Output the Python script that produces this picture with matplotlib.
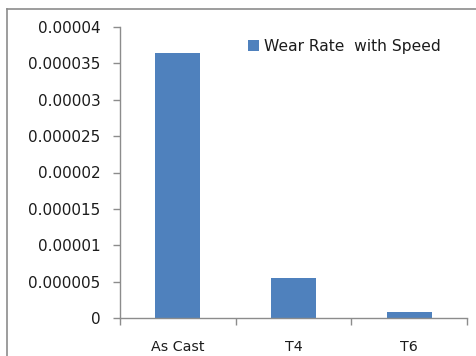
import matplotlib.pyplot as plt
from matplotlib.lines import Line2D

categories = ['As Cast', 'T4', 'T6']
wear_rate = [0.0000364, 0.0000055, 0.0000008]
series_name = 'Wear Rate  with Speed'
y_ticks = [0, 0.000005, 0.00001, 0.000015, 0.00002, 0.000025, 0.00003, 0.000035, 0.00004]
y_labels = ['0', '0.000005', '0.00001', '0.000015', '0.00002', '0.000025', '0.00003', '0.000035', '0.00004']

bar_color = '#4f81bd'
axis_color = '#8c8c8c'
text_color = '#1c1c1c'

fig = plt.figure(figsize=(4.77, 3.56), dpi=100)
ax = fig.add_axes([120 / 477, 38 / 356, 347 / 477, 291 / 356])

x = list(range(len(categories)))
ax.bar(x, wear_rate, width=0.39, color=bar_color, label=series_name)

ax.set_xlim(-0.5, len(categories) - 0.5)
ax.set_ylim(0, 0.00004)
ax.set_yticks(y_ticks)
ax.set_yticklabels(y_labels)

# boundaries get the tick marks, centres get the labels
ax.set_xticks([i - 0.5 for i in range(len(categories) + 1)])
ax.set_xticklabels([])
ax.set_xticks(x, minor=True)
ax.set_xticklabels(categories, minor=True)
ax.tick_params(axis='x', which='major', direction='out', length=5, width=1, color=axis_color)
ax.tick_params(axis='x', which='minor', length=0, pad=16, labelsize=10.3, labelcolor=text_color)
ax.tick_params(axis='y', direction='out', length=5, width=1, color=axis_color,
               pad=9, labelsize=11, labelcolor=text_color)

for side in ['top', 'right']:
    ax.spines[side].set_visible(False)
for side in ['left', 'bottom']:
    ax.spines[side].set_color(axis_color)
    ax.spines[side].set_linewidth(1)

leg = ax.legend(loc='upper left', bbox_to_anchor=(0.328, 1.007), frameon=False,
                fontsize=11.2, handlelength=0.7, handleheight=0.7, handletextpad=0.35)
for t in leg.get_texts():
    t.set_color(text_color)

# outer chart border (left and top edges only are in view)
fig.add_artist(Line2D([7 / 477, 7 / 477], [0, 1 - 9 / 356], color=axis_color, lw=1.2))
fig.add_artist(Line2D([7 / 477, 1], [1 - 9 / 356, 1 - 9 / 356], color=axis_color, lw=1.2))

fig.savefig('out.png', dpi=100)
